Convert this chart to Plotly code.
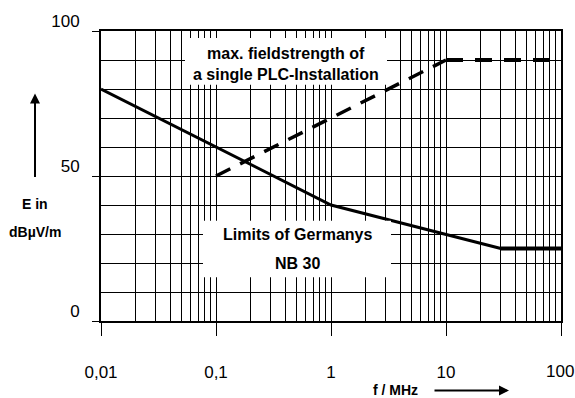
import plotly.graph_objects as go

# NB 30 limit (solid)
nb30_slope_f = [0.01, 1, 30]
nb30_slope_e = [80, 40, 25]
nb30_flat_f = [30, 100]
nb30_flat_e = [25, 25]
# max fieldstrength of a single PLC installation (dashed)
plc_slope_f = [0.1, 10]
plc_slope_e = [50, 90]
plc_flat_f = [10, 100]
plc_flat_e = [90, 90]

x_tickvals = [0.01, 0.1, 1, 10, 100]
x_ticktext = ["0,01", "0,1", "1", "10", "100"]
y_tickvals = [0, 50, 100]
y_ticktext = ["0", "50", "100"]

x_minor = [m * d for d in [0.01, 0.1, 1, 10] for m in range(2, 10)]

FONT = "Liberation Sans, Arial, sans-serif"

fig = go.Figure()
fig.add_trace(go.Scatter(x=nb30_slope_f, y=nb30_slope_e, mode="lines",
                         line=dict(color="black", width=3), showlegend=False))
fig.add_trace(go.Scatter(x=nb30_flat_f, y=nb30_flat_e, mode="lines",
                         line=dict(color="black", width=4), showlegend=False))
fig.add_trace(go.Scatter(x=plc_slope_f, y=plc_slope_e, mode="lines",
                         line=dict(color="black", width=3.5, dash="16px,11px"), showlegend=False))
fig.add_trace(go.Scatter(x=plc_flat_f, y=plc_flat_e, mode="lines",
                         line=dict(color="black", width=4, dash="17px,12px"), showlegend=False))

W, H = 575, 398
L, R, T, B = 101, 14, 29, 77
pw, ph = W - L - R, H - T - B

def px(x):
    return (x - L) / pw

def py(y):
    return (H - B - y) / ph

# last x tick label would overflow the page edge; draw it as an annotation
shown_ticktext = x_ticktext[:-1] + [""]

fig.update_layout(
    width=W, height=H,
    margin=dict(l=L, r=R, t=T, b=B),
    paper_bgcolor="white", plot_bgcolor="white",
    font=dict(family=FONT, color="black"),
    xaxis=dict(type="log", range=[-2, 2], tickvals=x_tickvals, ticktext=shown_ticktext,
               showgrid=True, gridcolor="black", gridwidth=1,
               ticks="outside", ticklen=13, tickwidth=1, tickcolor="black",
               ticklabelstandoff=22,
               tickfont=dict(size=17, family=FONT),
               showline=True, linecolor="black", linewidth=2, mirror=True,
               minor=dict(tickvals=x_minor, showgrid=True, gridcolor="black", gridwidth=1, ticks=""),
               zeroline=False),
    yaxis=dict(range=[0, 100], tickvals=y_tickvals, ticktext=y_ticktext,
               showgrid=True, gridcolor="black", gridwidth=1,
               ticks="outside", ticklen=7, tickwidth=1, tickcolor="black",
               ticklabelshift=-10, ticklabelstandoff=9,
               tickfont=dict(size=17, family=FONT),
               showline=True, linecolor="black", linewidth=2, mirror=True,
               minor=dict(dtick=10, showgrid=True, gridcolor="black", gridwidth=1, ticks=""),
               zeroline=False),
)

fig.add_annotation(xref="paper", yref="paper", x=px(576), y=py(372),
                   text=x_ticktext[-1], showarrow=False, xanchor="right", yanchor="middle",
                   font=dict(size=17, family=FONT, color="black"))

# white boxes behind the labels
fig.add_shape(type="rect", xref="paper", yref="paper",
              x0=px(185), x1=px(387), y0=py(83), y1=py(36),
              fillcolor="white", line=dict(width=0), layer="above")
fig.add_shape(type="rect", xref="paper", yref="paper",
              x0=px(203), x1=px(391), y0=py(277), y1=py(220),
              fillcolor="white", line=dict(width=0), layer="above")

def txt(x, y, s, size=16, bold=True):
    fig.add_annotation(xref="paper", yref="paper", x=px(x), y=py(y),
                       text=f"<b>{s}</b>" if bold else s, showarrow=False,
                       xanchor="center", yanchor="middle",
                       font=dict(size=size, family=FONT, color="black"))

txt(286, 52, "max. fieldstrength of")
txt(286, 73, "a single PLC-Installation")
txt(297, 234, "Limits of Germanys")
txt(297, 263, "NB 30")
txt(35, 203, "E in", size=14)
txt(35, 231, "dBµV/m", size=14)
txt(395, 390, "f / MHz", size=14)

# arrows
fig.add_annotation(xref="paper", yref="paper", x=px(35), y=py(92), ax=0, ay=85,
                   axref="pixel", ayref="pixel", text="", showarrow=True,
                   arrowhead=2, arrowsize=1, arrowwidth=2, arrowcolor="black")
fig.add_annotation(xref="paper", yref="paper", x=px(509), y=py(391), ax=-76, ay=0,
                   axref="pixel", ayref="pixel", text="", showarrow=True,
                   arrowhead=2, arrowsize=1, arrowwidth=2, arrowcolor="black")

fig.write_html("out.html", config={"displayModeBar": False},
               post_script="document.body.style.margin='0';document.body.style.overflow='hidden';")
